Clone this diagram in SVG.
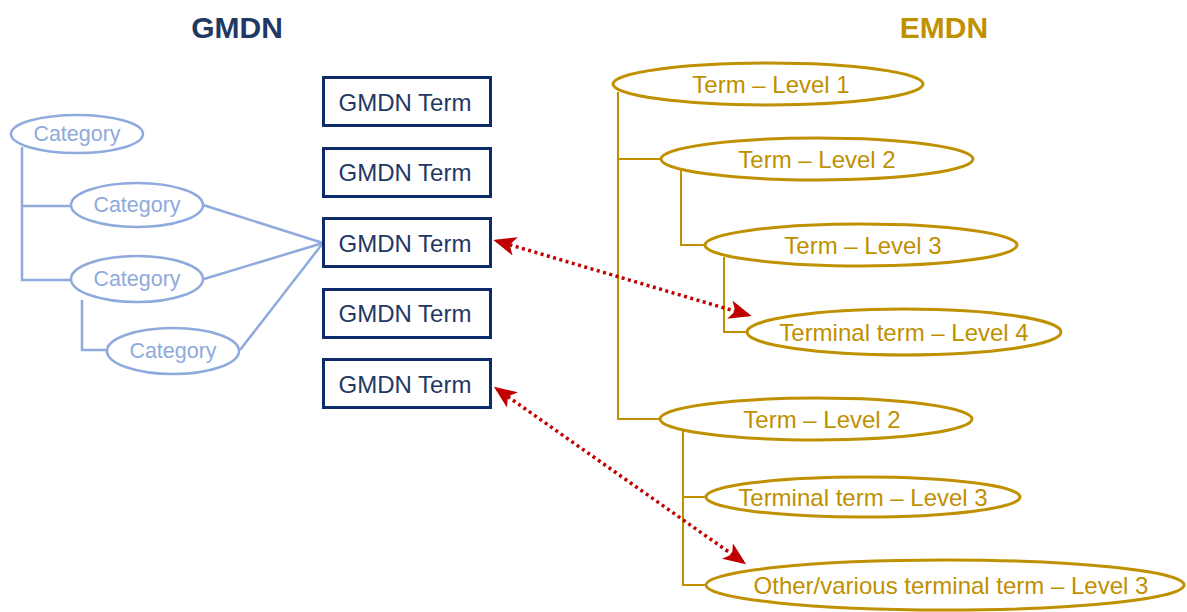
<svg xmlns="http://www.w3.org/2000/svg" width="1187" height="612" viewBox="0 0 1187 612">
<style>
.title{font-family:"Liberation Sans",Arial,sans-serif;font-weight:bold;font-size:30px;text-anchor:middle}
.box{fill:#fff;stroke:#0D2B6B;stroke-width:3}
.boxt{font-family:"Liberation Sans",Arial,sans-serif;font-size:24px;fill:#1F3864;text-anchor:middle;dominant-baseline:central}
.cat{fill:#fff;stroke:#8FAADC;stroke-width:2.5}
.catt{font-family:"Liberation Sans",Arial,sans-serif;font-size:21.5px;fill:#8FAADC;text-anchor:middle;dominant-baseline:central}
.em{fill:#fff;stroke:#BF9000;stroke-width:3}
.emt{font-family:"Liberation Sans",Arial,sans-serif;font-size:24px;fill:#BF9000;text-anchor:middle;dominant-baseline:central}
.bl{fill:none;stroke:#8FAADC;stroke-width:2.5}
.gl{fill:none;stroke:#BF9000;stroke-width:2}
.red{fill:none;stroke:#C00000;stroke-width:3.5;stroke-dasharray:3 3.5;marker-start:url(#ah);marker-end:url(#ah)}
</style>
<defs>
<marker id="ah" viewBox="0 0 12 10" refX="10" refY="5" markerWidth="6.5" markerHeight="5.5" orient="auto-start-reverse" markerUnits="strokeWidth">
<path d="M0,0 L12,5 L0,10 L3,5 Z" fill="#C00000"/>
</marker>
</defs>
<rect width="1187" height="612" fill="#fff"/>
<text class="title" x="237" y="38" fill="#1F3864">GMDN</text>
<text class="title" x="944" y="38" fill="#BF9000">EMDN</text>
<g id="connectors">
<path class="bl" d="M22,147 V280 H71 M22,206 H71 M82,300 V350 H107"/>
<path class="bl" d="M203,205 L323,243 M204,279 L323,243 M240,350 L323,243"/>
<path class="gl" d="M618,92 V419 H659 M618,159 H661 M681,170 V245 H705 M724,257 V332 H746 M683,430 V585 H706 M683,497 H706"/>
<path class="red" d="M497,241 L748,315"/>
<path class="red" d="M497,389 L743,562"/>
</g>
<g id="cat1"><ellipse class="cat" cx="77" cy="134" rx="66" ry="19"/><text class="catt" x="77" y="134">Category</text></g>
<g id="cat2"><ellipse class="cat" cx="137" cy="205" rx="66" ry="22"/><text class="catt" x="137" y="205">Category</text></g>
<g id="cat3"><ellipse class="cat" cx="137" cy="279" rx="66" ry="23"/><text class="catt" x="137" y="279">Category</text></g>
<g id="cat4"><ellipse class="cat" cx="173" cy="351" rx="66" ry="23"/><text class="catt" x="173" y="351">Category</text></g>
<g id="gmdn1"><rect class="box" x="323.5" y="77.5" width="167" height="48"/><text class="boxt" x="405" y="102">GMDN Term</text></g>
<g id="gmdn2"><rect class="box" x="323.5" y="148.5" width="167" height="48"/><text class="boxt" x="405" y="172">GMDN Term</text></g>
<g id="gmdn3"><rect class="box" x="323.5" y="218.5" width="167" height="48"/><text class="boxt" x="405" y="243">GMDN Term</text></g>
<g id="gmdn4"><rect class="box" x="323.5" y="289.5" width="167" height="48"/><text class="boxt" x="405" y="313">GMDN Term</text></g>
<g id="gmdn5"><rect class="box" x="323.5" y="359.5" width="167" height="48"/><text class="boxt" x="405" y="384">GMDN Term</text></g>
<g id="em1"><ellipse class="em" cx="768" cy="84" rx="155" ry="21"/><text class="emt" x="771" y="84">Term – Level 1</text></g>
<g id="em2a"><ellipse class="em" cx="817" cy="159" rx="156" ry="21"/><text class="emt" x="817" y="159">Term – Level 2</text></g>
<g id="em3"><ellipse class="em" cx="861" cy="245" rx="156" ry="21"/><text class="emt" x="863" y="245">Term – Level 3</text></g>
<g id="em4"><ellipse class="em" cx="904" cy="332" rx="157" ry="23"/><text class="emt" x="904" y="332">Terminal term – Level 4</text></g>
<g id="em2b"><ellipse class="em" cx="816" cy="419" rx="156" ry="21"/><text class="emt" x="822" y="419">Term – Level 2</text></g>
<g id="em3b"><ellipse class="em" cx="863" cy="497" rx="157" ry="20"/><text class="emt" x="863" y="497">Terminal term – Level 3</text></g>
<g id="em3c"><ellipse class="em" cx="945" cy="585" rx="239" ry="25"/><text class="emt" x="951" y="585">Other/various terminal term – Level 3</text></g>
</svg>
